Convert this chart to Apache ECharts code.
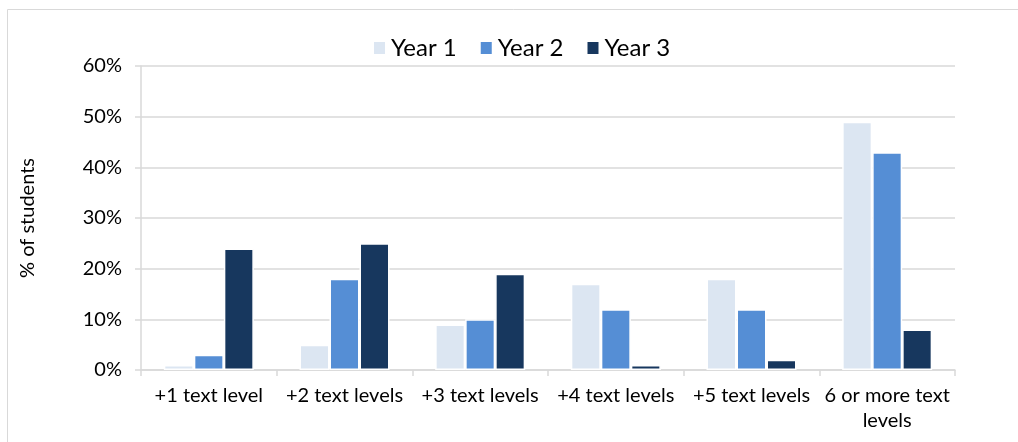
<!DOCTYPE html>
<html>
<head>
<meta charset="utf-8">
<script src="https://cdn.jsdelivr.net/npm/echarts@6/dist/echarts.min.js"></script>
<style>
  html, body { margin: 0; padding: 0; background: #fff; }
  #chart { width: 1018px; height: 442px; }
</style>
</head>
<body>
<div id="chart"></div>
<script>
// Growth in text levels, share of students per year group
const categories = ['+1 text level', '+2 text levels', '+3 text levels', '+4 text levels', '+5 text levels', '6 or more text levels'];
const year1 = [1, 5, 9, 17, 18, 49];
const year2 = [3, 18, 10, 12, 12, 43];
const year3 = [24, 25, 19, 1, 2, 8];
const yTicks = [0, 10, 20, 30, 40, 50, 60];

const FONT = 'Lato, "Open Sans", sans-serif';
const GRID = '#d9d9d9';

const chart = echarts.init(document.getElementById('chart'), null, { renderer: 'canvas' });

function barSeries(name, data, color) {
  return {
    name: name,
    type: 'bar',
    data: data,
    barWidth: 30,
    barGap: '0%',
    itemStyle: { color: color, borderColor: '#ffffff', borderWidth: 1.5 }
  };
}

chart.setOption({
  animation: false,
  textStyle: { fontFamily: FONT },
  graphic: [{
    type: 'rect',
    shape: { x: 7.5, y: 9.5, width: 1030, height: 450 },
    style: { fill: 'none', stroke: '#d9d9d9', lineWidth: 1 },
    silent: true,
    z: -10
  }],
  legend: {
    top: 31,
    left: 367,
    itemWidth: 13,
    itemHeight: 14,
    itemGap: 22,
    icon: 'rect',
    textStyle: { fontSize: 24, color: '#000', fontFamily: FONT, padding: [0, 0, 0, 0] },
    data: ['Year 1', 'Year 2', 'Year 3']
  },
  grid: { left: 141, right: 63, top: 66, bottom: 72, containLabel: false },
  xAxis: {
    type: 'category',
    data: categories,
    axisLine: { lineStyle: { color: GRID, width: 1.5 } },
    axisTick: { show: true, length: 6, lineStyle: { color: GRID, width: 1.5 }, alignWithLabel: false },
    axisLabel: {
      color: '#000',
      fontSize: 20,
      fontFamily: FONT,
      margin: 13,
      lineHeight: 25,
      interval: 0,
      formatter: function (v) { return v === '6 or more text levels' ? '6 or more text\nlevels' : v; }
    }
  },
  yAxis: {
    type: 'value',
    min: yTicks[0],
    max: yTicks[yTicks.length - 1],
    interval: 10,
    name: '% of students',
    nameLocation: 'middle',
    nameGap: 103,
    nameTextStyle: { color: '#000', fontSize: 20, fontFamily: FONT },
    axisLine: { show: true, lineStyle: { color: GRID, width: 1.5 } },
    axisTick: { show: true, length: 6, lineStyle: { color: GRID, width: 1.5 } },
    axisLabel: { color: '#000', fontSize: 20, fontFamily: FONT, margin: 19, formatter: '{value}%' },
    splitLine: { lineStyle: { color: GRID, width: 1.5 } }
  },
  series: [
    barSeries('Year 1', year1, '#dce6f2'),
    barSeries('Year 2', year2, '#558ed5'),
    barSeries('Year 3', year3, '#17375e')
  ]
});
</script>
</body>
</html>
